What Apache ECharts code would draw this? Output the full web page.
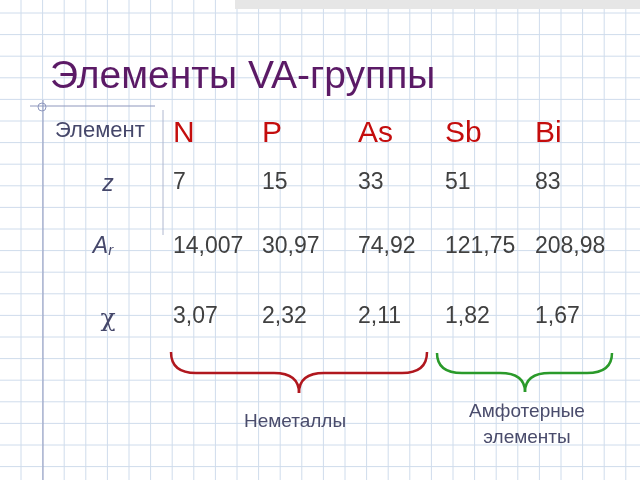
<!DOCTYPE html>
<html><head><meta charset="utf-8">
<script src="https://cdn.jsdelivr.net/npm/echarts@6/dist/echarts.min.js"></script>
<style>html,body{margin:0;padding:0;background:#fff}#c{width:640px;height:480px}</style>
</head><body><div id="c"></div>
<script>
var title = 'Элементы VA-группы';
var headerLabel = 'Элемент';
var elements = ['N','P','As','Sb','Bi'];
var rowLabels = ['Z','Ar','χ'];
var zValues = ['7','15','33','51','83'];
var arValues = ['14,007','30,97','74,92','121,75','208,98'];
var chiValues = ['3,07','2,32','2,11','1,82','1,67'];
var groupLabels = ['Неметаллы','Амфотерные\nэлементы'];

var colX = [173,262,358,445,535];
var rowY = [183,247,317];
var g = [];
for (var x = 21; x < 640; x += 21.6) g.push({type:'line',shape:{x1:x,y1:0,x2:x,y2:480},style:{stroke:'#cfdcec',lineWidth:1}});
for (var y = 13; y < 480; y += 21.6) g.push({type:'line',shape:{x1:0,y1:y,x2:640,y2:y},style:{stroke:'#cfdcec',lineWidth:1}});
g.push({type:'rect',shape:{x:235,y:0,width:405,height:9},style:{fill:'#e6e6e6'}});
g.push({type:'line',shape:{x1:30,y1:106,x2:155,y2:106},style:{stroke:'#8e97bd',lineWidth:1}});
g.push({type:'line',shape:{x1:43,y1:100,x2:43,y2:480},style:{stroke:'#8e97bd',lineWidth:1}});
g.push({type:'circle',shape:{cx:42,cy:107,r:4},style:{fill:'none',stroke:'#8e97bd',lineWidth:1}});
g.push({type:'line',shape:{x1:163,y1:110,x2:163,y2:235},style:{stroke:'#b0b8d0',lineWidth:1}});
g.push({type:'text',x:50,y:77,style:{text:title,font:'39px "Liberation Sans", Arial',fill:'#5b1a66',verticalAlign:'middle'}});
g.push({type:'text',x:55,y:131,style:{text:headerLabel,font:'22px "Liberation Sans", Arial',fill:'#45476a',verticalAlign:'middle'}});
var rowText = [zValues, arValues, chiValues];
elements.forEach(function(e,i){
  g.push({type:'text',x:colX[i],y:134,style:{text:e,font:'30px "Liberation Sans", Arial',fill:'#c40d0d',verticalAlign:'middle'}});
  rowText.forEach(function(r,j){
    g.push({type:'text',x:colX[i],y:rowY[j],style:{text:r[i],font:'23px "Liberation Sans", Arial',fill:'#404040',verticalAlign:'middle'}});
  });
});
g.push({type:'text',x:108,y:rowY[0]+2,style:{text:'z',font:'italic 23px "Liberation Sans", Arial',fill:'#45476a',align:'center',verticalAlign:'middle'}});
g.push({type:'text',x:103,y:rowY[1],style:{rich:{a:{font:'italic 23px "Liberation Sans", Arial',fill:'#45476a'},b:{font:'italic 15px "Liberation Sans", Arial',fill:'#45476a',verticalAlign:'bottom',padding:[8,0,0,0]}},text:'{a|A}{b|r}',align:'center',verticalAlign:'middle'}});
g.push({type:'text',x:108,y:rowY[2]+2,style:{text:'χ',font:'25px "DejaVu Serif", serif',fill:'#45476a',align:'center',verticalAlign:'middle'}});
function brace(x1,x2,xm,y1,y2,ym,col){
  var s={stroke:col,lineWidth:2.5,fill:'none'};
  return [
    {type:'bezierCurve',shape:{x1:x1,y1:y1,x2:x1+25,y2:y2,cpx1:x1,cpy1:y2},style:s},
    {type:'line',shape:{x1:x1+25,y1:y2,x2:xm-25,y2:y2},style:s},
    {type:'bezierCurve',shape:{x1:xm-25,y1:y2,x2:xm,y2:ym,cpx1:xm,cpy1:y2},style:s},
    {type:'bezierCurve',shape:{x1:xm,y1:ym,x2:xm+25,y2:y2,cpx1:xm,cpy1:y2},style:s},
    {type:'line',shape:{x1:xm+25,y1:y2,x2:x2-25,y2:y2},style:s},
    {type:'bezierCurve',shape:{x1:x2-25,y1:y2,x2:x2,y2:y1,cpx1:x2,cpy1:y2},style:s}
  ];
}
g = g.concat(brace(171,427,299,352,373,393,'#b0171e'));
g = g.concat(brace(437,612,525,353,373,392,'#2a9a2a'));
g.push({type:'text',x:295,y:422,style:{text:groupLabels[0],font:'19px "Liberation Sans", Arial',fill:'#4a4c6c',align:'center',verticalAlign:'middle'}});
g.push({type:'text',x:527,y:425,style:{text:groupLabels[1],font:'19px "Liberation Sans", Arial',fill:'#4a4c6c',align:'center',verticalAlign:'middle',lineHeight:26}});
var chart = echarts.init(document.getElementById('c'));
chart.setOption({animation:false,graphic:g});
</script></body></html>
